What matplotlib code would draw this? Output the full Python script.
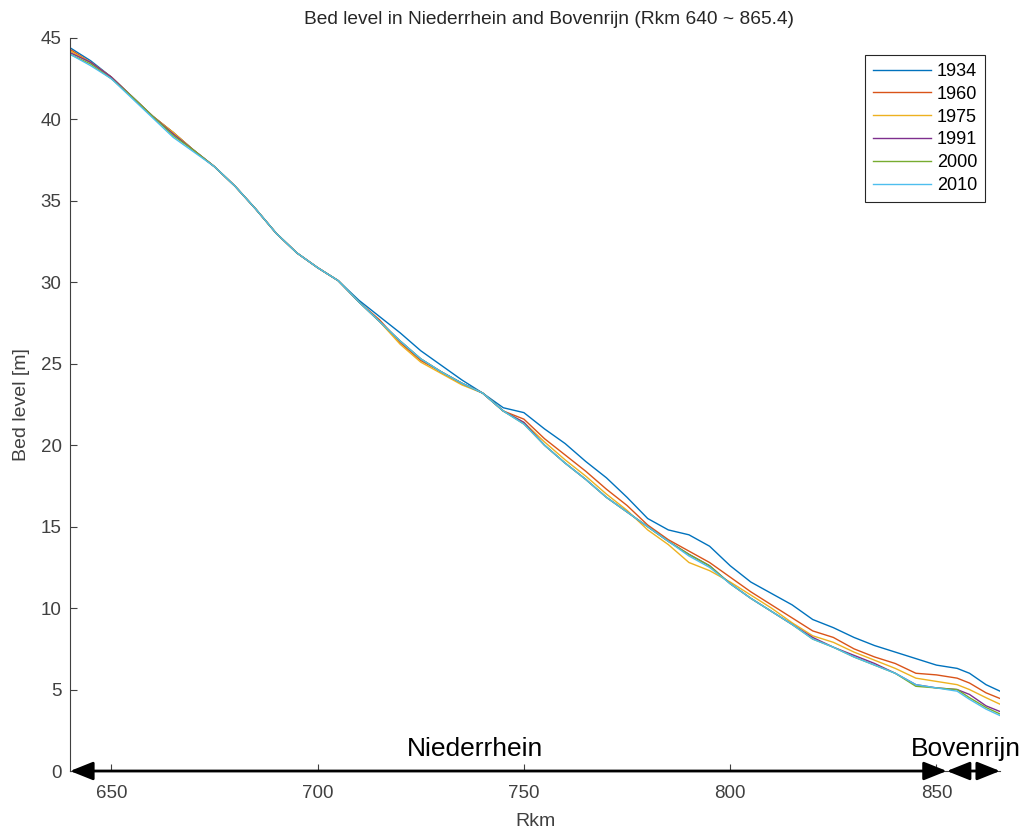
import numpy as np
import matplotlib.pyplot as plt

rkm = [640, 645, 650, 655, 660, 665, 670, 675, 680, 685, 690, 695, 700, 705, 710,
       715, 720, 725, 730, 735, 740, 745, 750, 755, 760, 765, 770, 775, 780, 785,
       790, 795, 800, 805, 810, 815, 820, 825, 830, 835, 840, 845, 850, 855, 858,
       862, 865.4]

bed_1934 = [44.4, 43.6, 42.6, 41.4, 40.2, 39.2, 38.1, 37.1, 35.9, 34.5, 33.0, 31.8, 30.9, 30.1, 28.9,
            27.9, 26.9, 25.8, 24.9, 24.0, 23.2, 22.3, 22.0, 21.0, 20.1, 19.0, 18.0, 16.8, 15.5, 14.8,
            14.5, 13.8, 12.6, 11.6, 10.9, 10.2, 9.3, 8.8, 8.2, 7.7, 7.3, 6.9, 6.5, 6.3, 6.0,
            5.3, 4.9]
bed_1960 = [44.3, 43.5, 42.6, 41.4, 40.2, 39.2, 38.1, 37.1, 35.9, 34.5, 33.0, 31.8, 30.9, 30.1, 28.8,
            27.7, 26.3, 25.2, 24.5, 23.8, 23.2, 22.1, 21.6, 20.4, 19.4, 18.4, 17.3, 16.3, 15.1, 14.2,
            13.5, 12.8, 11.9, 11.0, 10.2, 9.4, 8.6, 8.2, 7.5, 7.0, 6.6, 6.0, 5.9, 5.7, 5.4,
            4.8, 4.45]
bed_1975 = [44.2, 43.5, 42.6, 41.4, 40.2, 39.2, 38.1, 37.1, 35.9, 34.5, 33.0, 31.8, 30.9, 30.1, 28.8,
            27.6, 26.2, 25.1, 24.4, 23.7, 23.2, 22.1, 21.4, 20.2, 19.1, 18.1, 17.0, 16.0, 14.8, 13.9,
            12.8, 12.3, 11.6, 10.8, 10.0, 9.1, 8.3, 7.9, 7.3, 6.8, 6.3, 5.7, 5.5, 5.3, 5.0,
            4.5, 4.1]
bed_1991 = [44.1, 43.5, 42.6, 41.4, 40.2, 39.1, 38.1, 37.1, 35.9, 34.5, 33.0, 31.8, 30.9, 30.1, 28.8,
            27.6, 26.4, 25.3, 24.5, 23.8, 23.2, 22.1, 21.4, 20.0, 18.9, 17.9, 16.8, 15.9, 15.0, 14.1,
            13.3, 12.6, 11.5, 10.6, 9.8, 9.0, 8.2, 7.6, 7.1, 6.6, 6.0, 5.3, 5.1, 5.0, 4.7,
            4.0, 3.65]
bed_2000 = [44.0, 43.4, 42.5, 41.4, 40.2, 39.0, 38.1, 37.1, 35.9, 34.5, 33.0, 31.8, 30.9, 30.1, 28.8,
            27.6, 26.4, 25.3, 24.5, 23.8, 23.2, 22.1, 21.3, 20.0, 18.9, 17.9, 16.8, 15.9, 15.0, 14.1,
            13.3, 12.6, 11.5, 10.6, 9.8, 9.0, 8.1, 7.6, 7.0, 6.5, 6.0, 5.2, 5.1, 5.0, 4.5,
            3.9, 3.5]
bed_2010 = [44.0, 43.3, 42.5, 41.3, 40.1, 38.9, 38.0, 37.1, 35.9, 34.5, 33.0, 31.8, 30.9, 30.1, 28.8,
            27.6, 26.4, 25.3, 24.5, 23.8, 23.2, 22.1, 21.3, 20.0, 18.9, 17.9, 16.8, 15.9, 15.0, 14.1,
            13.2, 12.5, 11.5, 10.6, 9.8, 9.0, 8.1, 7.6, 7.0, 6.5, 6.0, 5.3, 5.1, 4.9, 4.4,
            3.8, 3.4]

years = ['1934', '1960', '1975', '1991', '2000', '2010']
series = [bed_1934, bed_1960, bed_1975, bed_1991, bed_2000, bed_2010]

# MATLAB default colour order
colors = ['#0072BD', '#D95319', '#EDB120', '#7E2F8E', '#77AC30', '#4DBEEE']

plt.rcParams['font.family'] = ['Liberation Sans', 'DejaVu Sans']

fig = plt.figure(figsize=(10.24, 8.31), dpi=100)
ax = fig.add_axes([0.0684, 0.0722, 0.9082, 0.8821])

for yr, vals, c in zip(years, series, colors):
    ax.plot(rkm, vals, color=c, linewidth=1.0, label=yr)

ax.set_xlim(640, 865.4)
ax.set_ylim(0, 45)
ax.set_xticks([650, 700, 750, 800, 850])
ax.set_yticks(np.arange(0, 46, 5))

grey = '#404040'
ax.tick_params(direction='in', length=5, width=0.8, colors=grey, labelsize=13.5)
ax.tick_params(axis='x', pad=10)
ax.tick_params(axis='y', pad=6)
ax.spines['top'].set_visible(False)
ax.spines['right'].set_visible(False)
ax.spines['left'].set_color(grey)
ax.spines['bottom'].set_color(grey)

ax.set_title('Bed level in Niederrhein and Bovenrijn (Rkm 640 ~ 865.4)', fontsize=13.8,
             color='#262626', pad=10, x=0.515)
ax.set_xlabel('Rkm', fontsize=14, color=grey, labelpad=8)
ax.set_ylabel('Bed level [m]', fontsize=14, color=grey, labelpad=8)

leg = ax.legend(loc='upper right', bbox_to_anchor=(0.984, 0.977), borderaxespad=0,
                fontsize=13, handlelength=3.2, labelspacing=0.32, fancybox=False,
                framealpha=1, edgecolor='#262626', borderpad=0.45, handletextpad=0.3)
leg.get_frame().set_linewidth(0.8)

# river section arrows along the x-axis
arrow_kw = dict(arrowstyle='<|-|>,head_length=1.0,head_width=0.4', color='black', lw=2.0,
                shrinkA=0, shrinkB=0, mutation_scale=14)
ax.annotate('', xy=(640, 0), xytext=(852.5, 0), arrowprops=arrow_kw, annotation_clip=False)
ax.annotate('', xy=(852.5, 0), xytext=(865.4, 0), arrowprops=arrow_kw, annotation_clip=False)
ax.text(738.2, 0.6, 'Niederrhein', fontsize=19, ha='center', va='bottom', color='black')
ax.text(857.2, 0.6, 'Bovenrijn', fontsize=19, ha='center', va='bottom', color='black', clip_on=False)

plt.savefig('out.png', dpi=100)
